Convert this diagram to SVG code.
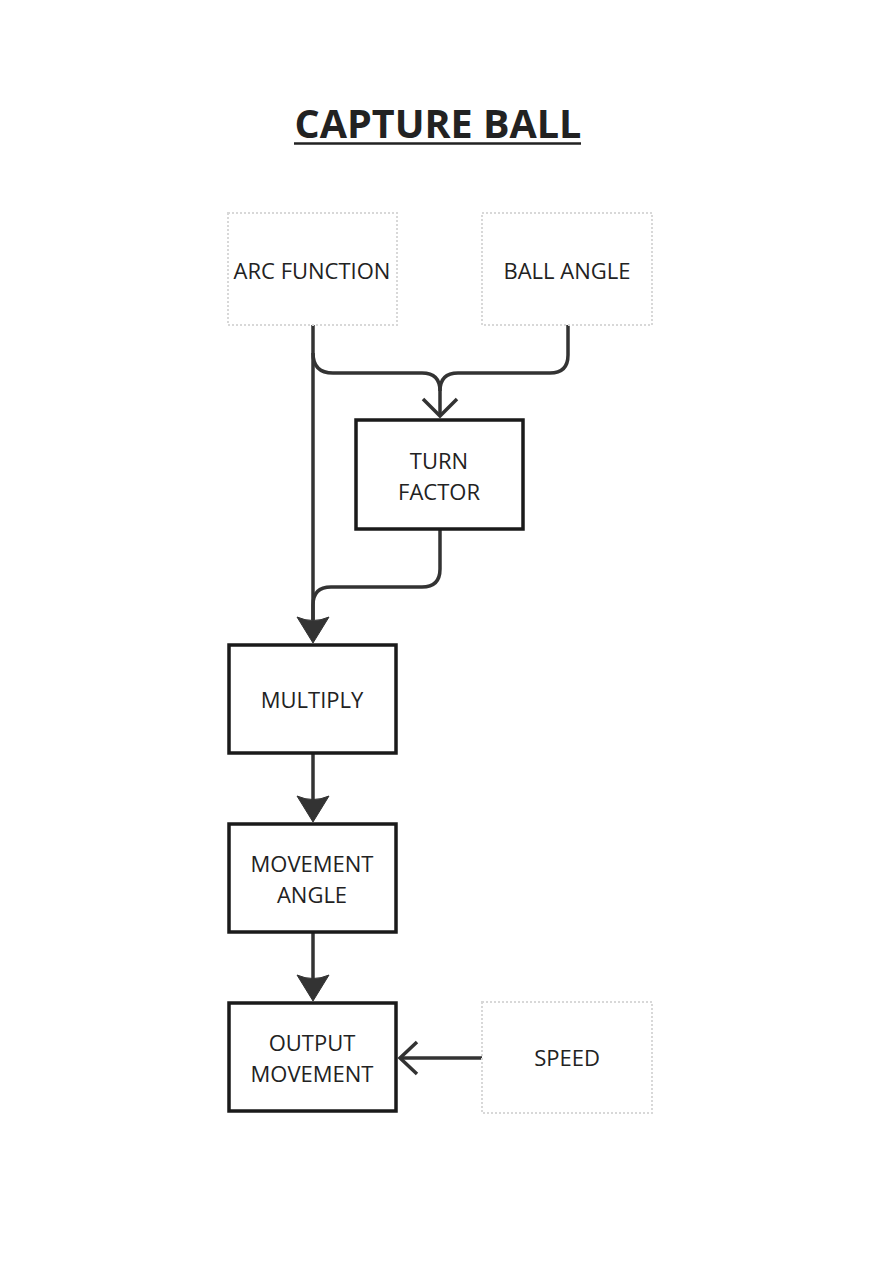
<svg xmlns="http://www.w3.org/2000/svg" width="883" height="1262" viewBox="0 0 883 1262">
<style>
.t{font-family:"Open Sans","Noto Sans","Liberation Sans",sans-serif;font-size:22px;fill:#222;text-anchor:middle}
.in{fill:#fff;stroke:#d8d8d8;stroke-width:2;stroke-dasharray:2 2}
.bx{fill:#fff;stroke:#1a1a1a;stroke-width:3.5}
.c{fill:none;stroke:#333;stroke-width:3.5}
.ah{fill:#333;stroke:#333;stroke-width:1;stroke-linejoin:round}
.oa{fill:none;stroke:#333;stroke-width:3.5}
</style>
<rect width="883" height="1262" fill="#fff"/>
<g id="title">
<text x="438" y="138" font-family="'Open Sans','Noto Sans','Liberation Sans',sans-serif" font-size="39.5" font-weight="bold" fill="#222" text-anchor="middle">CAPTURE BALL</text>
<line x1="294" y1="143.5" x2="581" y2="143.5" stroke="#222" stroke-width="2.5"/>
</g>
<g id="connectors">
<path class="c" d="M313 325 V620"/>
<path class="c" d="M313 353 Q313 373 333 373 H422 Q440 373 440 391 V414"/>
<path class="c" d="M568 325 V355 Q568 373 550 373 H458 Q440 373 440 391"/>
<path class="oa" d="M423 399 L440 416 L457 399"/>
<path class="c" d="M440 529 V569 Q440 587 422 587 H331 Q313 587 313 605 V620"/>
<path class="ah" d="M313 643 L297 617 Q313 624 329 617 Z"/>
<path class="c" d="M313 753 V800"/>
<path class="ah" d="M313 822 L297 796 Q313 803 329 796 Z"/>
<path class="c" d="M313 932 V980"/>
<path class="ah" d="M313 1001 L297 975 Q313 982 329 975 Z"/>
<path class="c" d="M482 1058 H401"/>
<path class="oa" d="M417 1042 L400 1058 L417 1074"/>
</g>
<g id="arc-function">
<rect class="in" x="228" y="213" width="169" height="112"/>
<text class="t" x="312" y="279">ARC FUNCTION</text>
</g>
<g id="ball-angle">
<rect class="in" x="482" y="213" width="170" height="112"/>
<text class="t" x="567" y="279">BALL ANGLE</text>
</g>
<g id="turn-factor">
<rect class="bx" x="356" y="420" width="167" height="109"/>
<text class="t" x="439" y="469">TURN</text>
<text class="t" x="439" y="500">FACTOR</text>
</g>
<g id="multiply">
<rect class="bx" x="229" y="645" width="167" height="108"/>
<text class="t" x="312" y="708">MULTIPLY</text>
</g>
<g id="movement-angle">
<rect class="bx" x="229" y="824" width="167" height="108"/>
<text class="t" x="312" y="872">MOVEMENT</text>
<text class="t" x="312" y="903">ANGLE</text>
</g>
<g id="output-movement">
<rect class="bx" x="229" y="1003" width="167" height="108"/>
<text class="t" x="312" y="1051">OUTPUT</text>
<text class="t" x="312" y="1082">MOVEMENT</text>
</g>
<g id="speed">
<rect class="in" x="482" y="1002" width="170" height="111"/>
<text class="t" x="567" y="1066">SPEED</text>
</g>
</svg>
